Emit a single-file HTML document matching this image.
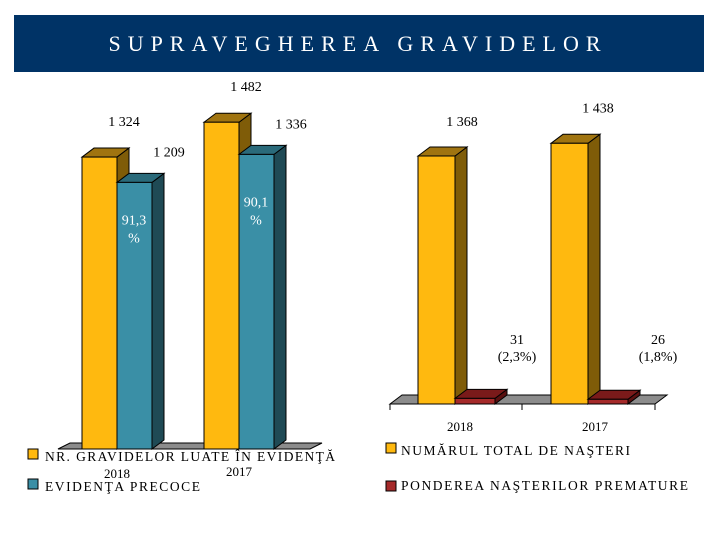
<!DOCTYPE html>
<html><head><meta charset="utf-8"><style>
html,body{margin:0;padding:0;background:#fff;}
svg{display:block;font-family:"Liberation Serif",serif;}
</style></head><body>
<svg id="chart" width="720" height="540" viewBox="0 0 720 540">
<rect x="14" y="15" width="690" height="57" fill="#003366"/>
<text x="358" y="51" text-anchor="middle" fill="#fff" font-size="22" letter-spacing="7">SUPRAVEGHEREA GRAVIDELOR</text>
<g id="left"></g><g id="right"></g>
<g>
<rect x="28" y="449" width="10" height="10" fill="#ffb90f" stroke="#000"/>
<text x="45" y="461" font-size="13.5" textLength="290">NR. GRAVIDELOR LUATE ÎN EVIDENŢĂ</text>
<rect x="28" y="479" width="10" height="10" fill="#3a8fa6" stroke="#000"/>
<text x="45" y="491" font-size="13.5" textLength="155">EVIDENŢA PRECOCE</text>
</g>
<g>
<rect x="386" y="443" width="10" height="10" fill="#ffb90f" stroke="#000"/>
<text x="401" y="455" font-size="13.5" textLength="229">NUMĂRUL TOTAL DE NAŞTERI</text>
<rect x="386" y="481" width="10" height="10" fill="#a52a2a" stroke="#000"/>
<text x="401" y="490" font-size="13.5" textLength="287">PONDEREA NAŞTERILOR PREMATURE</text>
</g>
</svg>
<script>
const leftCategories = ["2018", "2017"];
const leftGravide = [1324, 1482];
const leftPrecoce = [1209, 1336];
const leftPct = ["91,3", "90,1"];
const rightCategories = ["2018", "2017"];
const rightNasteri = [1368, 1438];
const rightPremature = [31, 26];
const rightPct = ["(2,3%)", "(1,8%)"];

const NS = "http://www.w3.org/2000/svg";
function mk(parent, tag, attrs, txt) {
  const e = document.createElementNS(NS, tag);
  for (const k in attrs) e.setAttribute(k, attrs[k]);
  if (txt !== undefined) e.textContent = txt;
  parent.appendChild(e);
  return e;
}
const DX = 12, DY = 9;
function bar3d(g, x, w, base, top, front, side, topc, name) {
  const grp = mk(g, "g", {});
  
  
  mk(grp, "polygon", {points: `${x+w},${top} ${x+w+DX},${top-DY} ${x+w+DX},${base-DY} ${x+w},${base}`, fill: side, stroke: "#000"});
  mk(grp, "polygon", {points: `${x},${top} ${x+DX},${top-DY} ${x+w+DX},${top-DY} ${x+w},${top}`, fill: topc, stroke: "#000"});
  mk(grp, "rect", {x: x, y: top, width: w, height: base - top, fill: front, stroke: "#000"});
}
function txt(g, x, y, s, name, fill, extra) {
  const t = mk(g, "text", Object.assign({x: x, y: y, "text-anchor": "middle", "font-size": 14, fill: fill || "#000"}, extra || {}), s);
  
  
  return t;
}
function fmt(v) { const s = String(v); return s.length > 3 ? s.slice(0, s.length - 3) + " " + s.slice(-3) : s; }

const L = document.getElementById("left");


const lBase = 449, lScale = 0.2205;
const ly = v => lBase - v * lScale;
const lGroupX = [82, 204], lW = 35;
const fl = mk(L, "polygon", {points: `58,${lBase} 70,${lBase-DY+3} 322,${lBase-DY+3} 310,${lBase}`, fill: "#8c8c8c", stroke: "#000"});


leftCategories.forEach((c, i) => {
  const x = lGroupX[i];
  bar3d(L, x, lW, lBase, ly(leftGravide[i]), "#ffb90f", "#7f5c08", "#a07410", "bar-gravide-" + c);
  bar3d(L, x + lW, lW, lBase, ly(leftPrecoce[i]), "#3a8fa6", "#1f4a55", "#2a6a7a", "bar-precoce-" + c);
  txt(L, x + 42, ly(leftGravide[i]) - 31, fmt(leftGravide[i]), "value-gravide-" + c);
  txt(L, x + 87, ly(leftPrecoce[i]) - 26, fmt(leftPrecoce[i]), "value-precoce-" + c);
  txt(L, x + lW + 17, ly(leftPrecoce[i]) + 42 + i * 10, leftPct[i], "pct-precoce-" + c, "#fff");
  txt(L, x + lW + 17, ly(leftPrecoce[i]) + 60 + i * 10, "%", "pct-sign-" + c, "#fff");
  txt(L, x + lW, 478 - i * 2, c, "x-label-left-" + c, "#000", {"font-size": 13});
});

const R = document.getElementById("right");


const rBase = 404, rScale = 0.1813;
const ry = v => rBase - v * rScale;
const rGroupX = [418, 551], rW = 37;
const fr = mk(R, "polygon", {points: `390,${rBase} 402,${rBase-DY} 667,${rBase-DY} 655,${rBase}`, fill: "#8c8c8c", stroke: "#000"});


const ax = mk(R, "path", {d: `M390,${rBase}H655M390,${rBase}V410M522,${rBase}V410M655,${rBase}V410`, stroke: "#000", fill: "none"});


rightCategories.forEach((c, i) => {
  const x = rGroupX[i];
  bar3d(R, x, rW, rBase, ry(rightNasteri[i]), "#ffb90f", "#7f5c08", "#a07410", "bar-nasteri-" + c);
  bar3d(R, x + rW, 40, rBase, ry(rightPremature[i]), "#a52a2a", "#5a1010", "#7a1a1a", "bar-premature-" + c);
  txt(R, x + 44 + i * 3, ry(rightNasteri[i]) - 30 - i * 1, fmt(rightNasteri[i]), "value-nasteri-" + c);
  txt(R, x + 99 + i * 8, 344, String(rightPremature[i]), "value-premature-" + c);
  txt(R, x + 99 + i * 8, 361, rightPct[i], "pct-premature-" + c);
  txt(R, x + 42 + i * 2, 431, c, "x-label-right-" + c, "#000", {"font-size": 13});
});
</script>
</body></html>
